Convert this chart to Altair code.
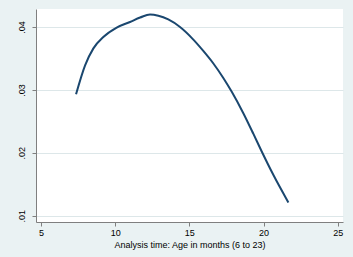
import altair as alt
import pandas as pd

ages = [7.36, 7.97, 8.53, 9.20, 10.10, 11.00, 11.68, 12.35, 12.91, 13.58, 14.37,
        15.27, 15.94, 16.62, 17.29, 17.86, 18.64, 19.32, 19.88, 20.66, 21.68]
hazard = [0.0293, 0.0339, 0.0366, 0.0384, 0.0399, 0.0408, 0.0415, 0.0420, 0.0418, 0.0412, 0.0400,
          0.0380, 0.0362, 0.0342, 0.0319, 0.0297, 0.0263, 0.0230, 0.0202, 0.0165, 0.0121]
x_ticks = [5, 10, 15, 20, 25]
y_ticks = [0.01, 0.02, 0.03, 0.04]

df = pd.DataFrame({"age": ages, "h": hazard})

chart = alt.Chart(df).mark_line(color="#1a476f", strokeWidth=2, interpolate="monotone").encode(
    x=alt.X("age:Q",
            scale=alt.Scale(domain=[4.66, 25.36], nice=False, zero=False),
            axis=alt.Axis(values=x_ticks, title="Analysis time: Age in months (6 to 23)",
                          grid=False, tickSize=4, labelPadding=2, titlePadding=3,
                          domainColor="#7f7f7f", tickColor="#7f7f7f")),
    y=alt.Y("h:Q",
            scale=alt.Scale(domain=[0.0090, 0.04286], nice=False, zero=False),
            axis=alt.Axis(values=y_ticks, title=None, grid=True, gridColor="#dde7e9",
                          tickSize=4, labelAngle=270, labelAlign="center", labelBaseline="bottom",
                          labelPadding=6,
                          labelExpr="substring(format(datum.value, '.2f'), 1)",
                          domainColor="#7f7f7f", tickColor="#7f7f7f")),
).properties(
    width=307, height=213,
    autosize=alt.AutoSizeParams(type="none"),
    padding={"left": 36, "top": 9, "right": 10, "bottom": 35},
    background="#eaf2f3",
).configure_view(
    stroke=None, fill="white"
).configure_axis(
    labelFont="Liberation Sans", titleFont="Liberation Sans",
    labelFontSize=9, titleFontSize=9, titleFontWeight="normal",
    labelColor="#000000", titleColor="#000000",
)

chart.save("out.html", embed_options={"renderer": "svg", "actions": False})
